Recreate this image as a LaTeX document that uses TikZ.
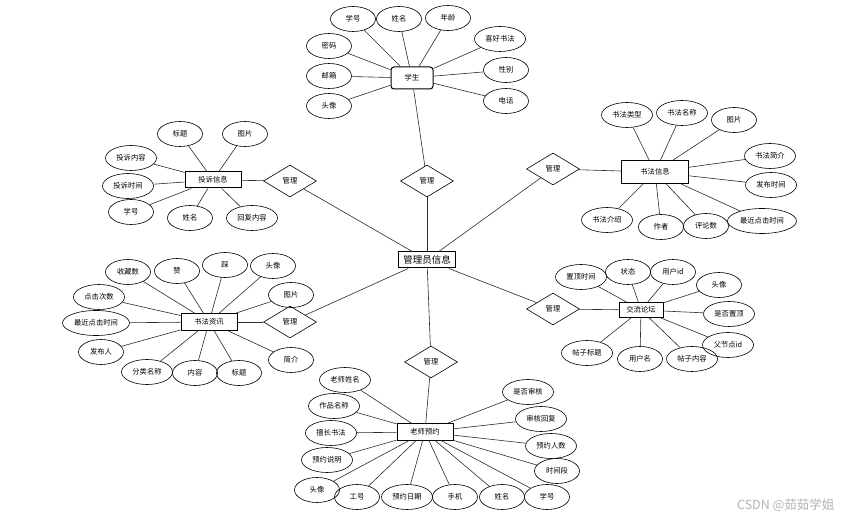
\documentclass[tikz,border=0pt]{standalone}
\usepackage{fontspec}
\setmainfont{Noto Sans CJK SC}
\usetikzlibrary{shapes.geometric}
\definecolor{edgeline}{HTML}{2B2B2B}
\definecolor{markgray}{HTML}{B4B4B4}

\begin{document}
\begin{tikzpicture}[
  x=1pt, y=-1pt,
  attr/.style   = {ellipse, draw=black, line width=0.6pt, minimum width=45pt, minimum height=25pt,
                   inner sep=0pt, font=\fontsize{7.3}{8}\selectfont},
  wide/.style   = {minimum width=51pt},
  entity/.style = {rectangle, draw=black, line width=1pt, minimum width=56pt, minimum height=16pt,
                   inner sep=1pt, font=\fontsize{7.3}{8}\selectfont},
  rel/.style    = {diamond, draw=black, line width=0.6pt, minimum width=53pt, minimum height=32pt,
                   inner sep=0pt, font=\fontsize{7.3}{8}\selectfont},
  link/.style   = {draw=edgeline, line width=0.6pt},
]
\useasboundingbox[fill=white] (0,0) rectangle (852,521);

%% ---------------------------------------------------------------- centre
\node[entity, minimum width=57pt, font=\fontsize{9.5}{10}\selectfont] (admin) at (427,260) {管理员信息};

%% ---------------------------------------------------------------- student
\node[entity, rounded corners=3pt, minimum width=42pt, minimum height=22pt] (stu) at (412,78) {学生};
\node[rel] (mstu) at (427,181) {管理};
\node[attr] (stuno)   at (353,19)  {学号};
\node[attr] (stuname) at (399,19)  {姓名};
\node[attr] (stuage)  at (448,18)  {年龄};
\node[attr, wide] (stulike) at (500,39) {喜好书法};
\node[attr] (stusex)  at (506,70)  {性别};
\node[attr] (stutel)  at (506,101) {电话};
\node[attr] (stupwd)  at (329,46)  {密码};
\node[attr] (stumail) at (329,76)  {邮箱};
\node[attr] (stuhead) at (329,106) {头像};

\foreach \a in {stuno,stuname,stuage,stulike,stusex,stutel,stupwd,stumail,stuhead}
  \draw[link] (stu) -- (\a);
\draw[link] (stu) -- (mstu);
\draw[link] (mstu) -- (admin);

%% ---------------------------------------------------------------- complaint
\node[entity] (comp) at (213,180) {投诉信息};
\node[rel] (mcomp) at (290,181) {管理};
\node[attr] (comptitle) at (180,134) {标题};
\node[attr] (comppic)   at (245,134) {图片};
\node[attr, wide] (comptext) at (131,158) {投诉内容};
\node[attr, wide] (comptime) at (128,186) {投诉时间};
\node[attr] (compno)    at (131,212) {学号};
\node[attr] (compname)  at (190,218) {姓名};
\node[attr, wide] (compreply) at (252,218) {回复内容};

\foreach \a in {comptitle,comppic,comptext,comptime,compno,compname,compreply}
  \draw[link] (comp) -- (\a);
\draw[link] (comp) -- (mcomp);
\draw[link] (mcomp) -- (admin);

%% ---------------------------------------------------------------- calligraphy
\node[entity, minimum width=67pt, minimum height=23pt] (cal) at (655,172) {书法信息};
\node[rel] (mcal) at (553,169) {管理};
\node[attr, wide] (caltype) at (627,115) {书法类型};
\node[attr, wide] (calname) at (682,113) {书法名称};
\node[attr] (calpic)  at (734,120) {图片};
\node[attr, wide] (calbrief) at (770,156) {书法简介};
\node[attr, wide] (caltime)  at (771,185) {发布时间};
\node[attr, minimum width=69pt] (calclick) at (762,221) {最近点击时间};
\node[attr, wide] (calintro) at (607,220) {书法介绍};
\node[attr] (calauthor) at (661,227) {作者};
\node[attr] (calcount)  at (706,226) {评论数};

\foreach \a in {caltype,calname,calpic,calbrief,caltime,calclick,calintro,calauthor,calcount}
  \draw[link] (cal) -- (\a);
\draw[link] (cal) -- (mcal);
\draw[link] (mcal) -- (admin);

%% ---------------------------------------------------------------- news
\node[entity, minimum height=17pt] (news) at (209,322) {书法资讯};
\node[rel] (mnews) at (290,322) {管理};
\node[attr] (newsfav)   at (128,272) {收藏数};
\node[attr] (newsup)    at (177,271) {赞};
\node[attr] (newsdown)  at (225,265) {踩};
\node[attr] (newshead)  at (273,266) {头像};
\node[attr] (newspic)   at (291,295) {图片};
\node[attr, wide] (newshits) at (99,297) {点击次数};
\node[attr, minimum width=67pt] (newsclick) at (96,323) {最近点击时间};
\node[attr] (newsuser)  at (101,352) {发布人};
\node[attr, wide] (newssort) at (147,372) {分类名称};
\node[attr] (newstext)  at (195,373) {内容};
\node[attr] (newstitle) at (239,373) {标题};
\node[attr] (newsbrief) at (291,360) {简介};

\foreach \a in {newsfav,newsup,newsdown,newshead,newspic,newshits,newsclick,newsuser,newssort,newstext,newstitle,newsbrief}
  \draw[link] (news) -- (\a);
\draw[link] (news) -- (mnews);
\draw[link] (mnews) -- (admin);

%% ---------------------------------------------------------------- forum
\node[entity, minimum width=44pt, minimum height=15pt] (forum) at (641,310) {交流论坛};
\node[rel] (mforum) at (553,309) {管理};
\node[attr, wide] (forumtop)  at (581,277) {置顶时间};
\node[attr] (forumstate) at (628,272) {状态};
\node[attr] (forumuid)   at (673,272) {用户id};
\node[attr] (forumhead)  at (719,285) {头像};
\node[attr, wide] (forumistop) at (729,314) {是否置顶};
\node[attr, wide] (forumpid)   at (728,345) {父节点id};
\node[attr, wide] (forumtitle) at (587,353) {帖子标题};
\node[attr] (forumuser)  at (640,359) {用户名};
\node[attr, wide] (forumtext)  at (692,359) {帖子内容};

\foreach \a in {forumtop,forumstate,forumuid,forumhead,forumistop,forumpid,forumtitle,forumuser,forumtext}
  \draw[link] (forum) -- (\a);
\draw[link] (forum) -- (mforum);
\draw[link] (mforum) -- (admin);

%% ---------------------------------------------------------------- booking
\node[entity] (book) at (425,432) {老师预约};
\node[rel] (mbook) at (431,362) {管理};
\node[attr, wide] (bookteacher) at (345,380) {老师姓名};
\node[attr, wide] (bookwork)    at (334,406) {作品名称};
\node[attr, wide] (bookskill)   at (331,433) {擅长书法};
\node[attr, wide] (booknote)    at (327,460) {预约说明};
\node[attr] (bookhead)  at (317,490) {头像};
\node[attr] (bookjob)   at (357,497) {工号};
\node[attr, wide] (bookdate)    at (407,497) {预约日期};
\node[attr] (bookphone) at (455,497) {手机};
\node[attr] (bookname)  at (502,497) {姓名};
\node[attr] (bookno)    at (547,497) {学号};
\node[attr, wide] (bookcheck)   at (528,392) {是否审核};
\node[attr, wide] (bookreply)   at (541,419) {审核回复};
\node[attr, wide] (booknum)     at (551,446) {预约人数};
\node[attr] (bookslot)  at (557,471) {时间段};

\foreach \a in {bookteacher,bookwork,bookskill,booknote,bookhead,bookjob,bookdate,bookphone,bookname,bookno,bookcheck,bookreply,booknum,bookslot}
  \draw[link] (book) -- (\a);
\draw[link] (book) -- (mbook);
\draw[link] (mbook) -- (admin);

%% ---------------------------------------------------------------- watermark
\node[text=markgray, font=\fontsize{12.5}{13}\selectfont, anchor=east] (mark) at (838,505) {CSDN @茹茹学姐};
\end{tikzpicture}
\end{document}
